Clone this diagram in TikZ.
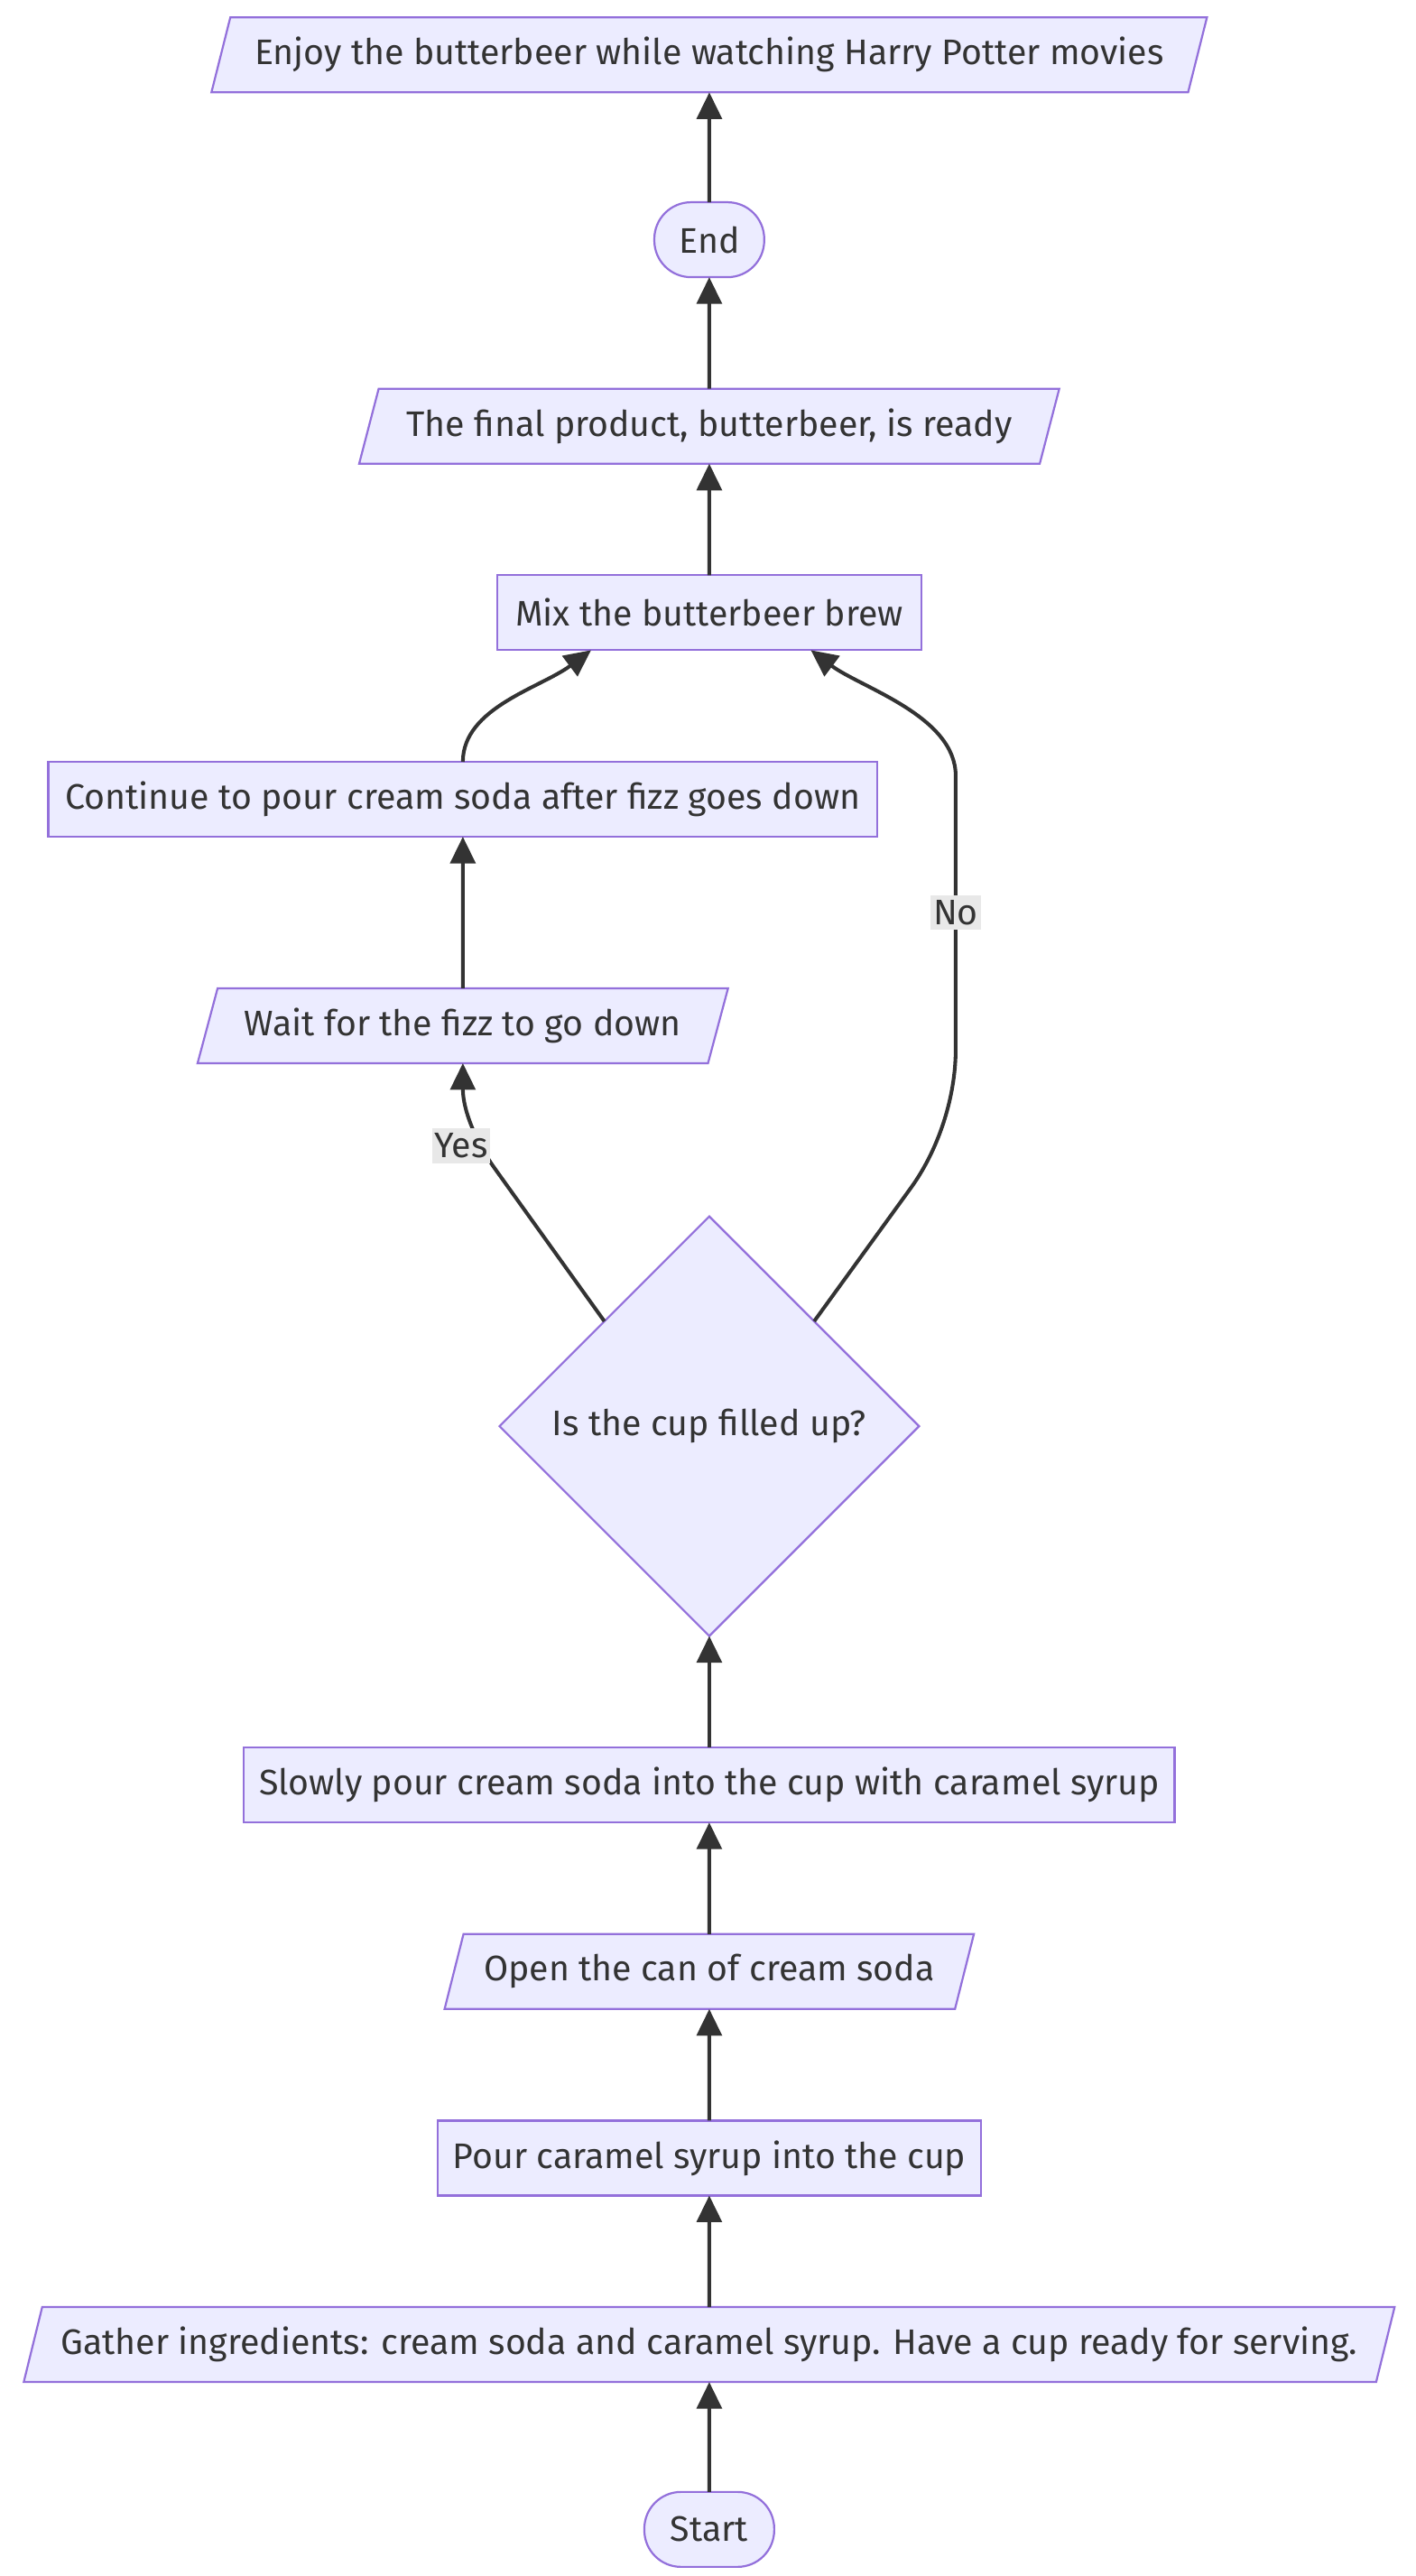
\documentclass[tikz,border=0pt]{standalone}
\usepackage{fontspec}
\setmainfont{Fira Sans}
\usepackage{tikz}
\usetikzlibrary{arrows.meta, positioning, shapes.geometric}
\definecolor{boxfill}{HTML}{ECECFF}
\definecolor{boxline}{HTML}{9370DB}
\definecolor{ink}{HTML}{333333}
\definecolor{lblbg}{HTML}{E8E8E8}

\begin{document}
\begin{tikzpicture}[->,>={Triangle[length=16pt,width=15pt]},x=1pt,y=1pt,line width=2.2pt,ink]
            \tikzset{every node/.style={font=\fontsize{21.3}{25}\selectfont, text=ink},
                     base/.style={draw=boxline, fill=boxfill, line width=1.2pt, minimum height=45pt, inner sep=1pt, outer sep=0pt},
                     stepbox/.style={base, rectangle},
                     iobox/.style={base, trapezium, trapezium left angle=65, trapezium right angle=115, trapezium stretches=true},
                     termbox/.style={base, rectangle, rounded corners=22pt},
                     choice/.style={base, diamond, minimum width=252pt, minimum height=252pt},
                     lbl/.style={fill=lblbg, inner xsep=1.5pt, inner ysep=3pt, draw=none}}
            \useasboundingbox (0,0) rectangle (850,-1547);
            \node[termbox, minimum width=78pt] (start) at (426,-1519) {Start};
            \node[iobox, minimum width=830pt] (gather) [above=66pt of start] {Gather ingredients: cream soda and caramel syrup. Have a cup ready for serving.};
            \node[stepbox, minimum width=326pt] (pour) [above=67pt of gather] {Pour caramel syrup into the cup};
            \node[iobox, minimum width=318pt] (opencan) [above=67pt of pour] {Open the can of cream soda};
            \node[stepbox, minimum width=559pt] (slowly) [above=67pt of opencan] {Slowly pour cream soda into the cup with caramel syrup};
            \node[choice] (cup) [above=67pt of slowly] {Is the cup filled up?};
            \node[iobox, minimum width=319pt] (wait) [above=92pt of cup, xshift=-148pt] {Wait for the fizz to go down};
            \node[stepbox, minimum width=498pt] (pourmore) [above=91pt of wait] {Continue to pour cream soda after fizz goes down};
            \node[stepbox, minimum width=255pt] (mix) [above=67pt of pourmore, xshift=148pt] {Mix the butterbeer brew};
            \node[iobox, minimum width=421pt] (ready) [above=67pt of mix] {The final product, butterbeer, is ready};
            \node[termbox, minimum width=66pt] (finish) [above=67pt of ready] {End};
            \node[iobox, minimum width=598pt] (enjoy) [above=66pt of finish] {Enjoy the butterbeer while watching Harry Potter movies};
            \path (start) edge (gather)
                  (gather) edge (pour)
                  (pour) edge (opencan)
                  (opencan) edge (slowly)
                  (slowly) edge (cup)
                  (wait) edge (pourmore)
                  (mix) edge (ready)
                  (ready) edge (finish)
                  (finish) edge (enjoy);
            \draw (cup.north west) -- ++(-66,92) .. controls +(-9,12.5) and +(0,-30) .. (wait.south) node[lbl, pos=0.3, xshift=-12pt] {Yes};
            \draw (cup.north east) -- ++(58,80) .. controls +(16,22) and +(0,-30) .. ++(27,83.5) -- ++(0,164) node[lbl, midway] {No} .. controls +(0,36) and +(30,-22.5) .. ([xshift=61pt]mix.south);
            \draw (pourmore.north) .. controls +(0,32.5) and +(-30,-22.5) .. ([xshift=-71pt]mix.south);
        \end{tikzpicture}
\end{document}
